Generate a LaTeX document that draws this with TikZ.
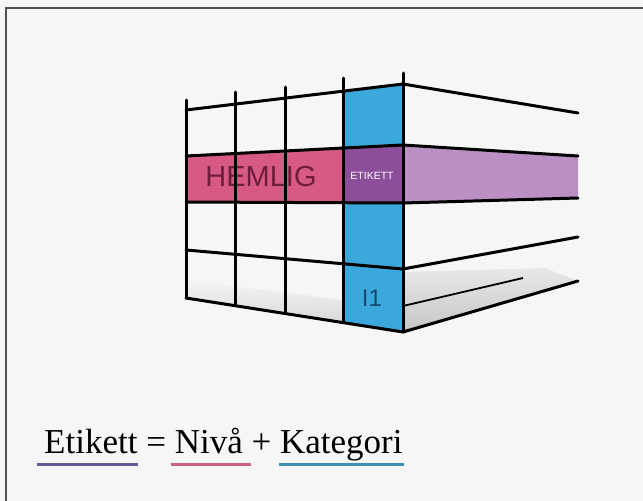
\documentclass[tikz,border=0pt]{standalone}
\usepackage{fontspec}
\setmainfont{Liberation Serif}
\newfontfamily\helv{Liberation Sans}
\definecolor{bandpink}{RGB}{214,90,132}
\definecolor{colblue}{RGB}{59,168,220}
\definecolor{cellpurple}{RGB}{140,78,155}
\definecolor{lightpurple}{RGB}{187,142,196}
\definecolor{hemligtxt}{RGB}{112,28,62}
\definecolor{itxt}{RGB}{22,72,112}
\definecolor{ulpurple}{RGB}{104,90,150}
\definecolor{ulpink}{RGB}{200,96,126}
\definecolor{ulblue}{RGB}{58,144,176}
\definecolor{bg}{RGB}{246,246,246}
\definecolor{framegray}{RGB}{80,80,80}
\tikzset{
  gridline/.style={line width=3pt, black, line cap=round},
  thinline/.style={line width=1.8pt, black},
  underl/.style={line width=3pt},
}
\begin{document}
\begin{tikzpicture}[x=1pt,y=-1pt]
\useasboundingbox (0,0) rectangle (643,501);
\fill[bg] (0,0) rectangle (643,501);
\draw[framegray, line width=1.6pt] (6,501) -- (6,8) -- (643,8);
% floor shadow
\shade[top color=gray!8, bottom color=gray!30] (186,280) -- (343,300) -- (343,323) -- (186,298) -- cycle;
\shade[top color=gray!18, bottom color=gray!45] (403,272) -- (545,268) -- (578,281) -- (403,332) -- cycle;
% coloured cells
\fill[bandpink] (186,156) -- (343,148) -- (343,202.3) -- (186,202) -- cycle;
\fill[colblue] (343,91.2) -- (403,84) -- (403,332) -- (343,322.6) -- cycle;
\fill[cellpurple] (343,148) -- (403,145) -- (403,203) -- (343,202.3) -- cycle;
\fill[lightpurple] (403,145) -- (578,156) -- (578,198) -- (403,203) -- cycle;
% texts
\node[text=hemligtxt, font=\helv\fontsize{29}{29}\selectfont, inner sep=0pt] (hemlig) at (261,177) {HEMLIG};
\node[text=white, font=\helv\fontsize{10.5}{10.5}\selectfont, inner sep=0pt] (etikett) at (372,176) {ETIKETT};
\node[text=itxt, font=\helv\fontsize{24}{24}\selectfont, inner sep=0pt] (ione) at (372,298) {I1};
% left face horizontal lines
\draw[gridline] (186,110) -- (403,84);
\draw[gridline] (186,156) -- (403,145);
\draw[gridline] (186,202) -- (403,203);
\draw[gridline] (186,250) -- (403,269);
\draw[gridline] (186,298) -- (403,332);
% right face lines
\draw[gridline] (403,84) -- (578,113);
\draw[gridline] (403,145) -- (578,156);
\draw[gridline] (403,203) -- (578,198);
\draw[gridline] (403,269) -- (578,237);
\draw[gridline] (403,332) -- (578,281);
\draw[thinline] (403,306) -- (523,278);
% verticals
\draw[gridline] (186,100) -- (186,298);
\draw[gridline] (235,92) -- (235,305.7);
\draw[gridline] (285,87) -- (285,313.5);
\draw[gridline] (343,78) -- (343,322.6);
\draw[gridline] (403,73) -- (403,332);
% formula
\node[anchor=base west, inner sep=0pt, font=\fontsize{35}{36}\selectfont] (formula) at (44,453) {Etikett = Nivå + Kategori};
\draw[underl, ulpurple] (37,464) -- (138,464);
\draw[underl, ulpink] (171,464) -- (251,464);
\draw[underl, ulblue] (279,464) -- (404,464);
\end{tikzpicture}
\end{document}
